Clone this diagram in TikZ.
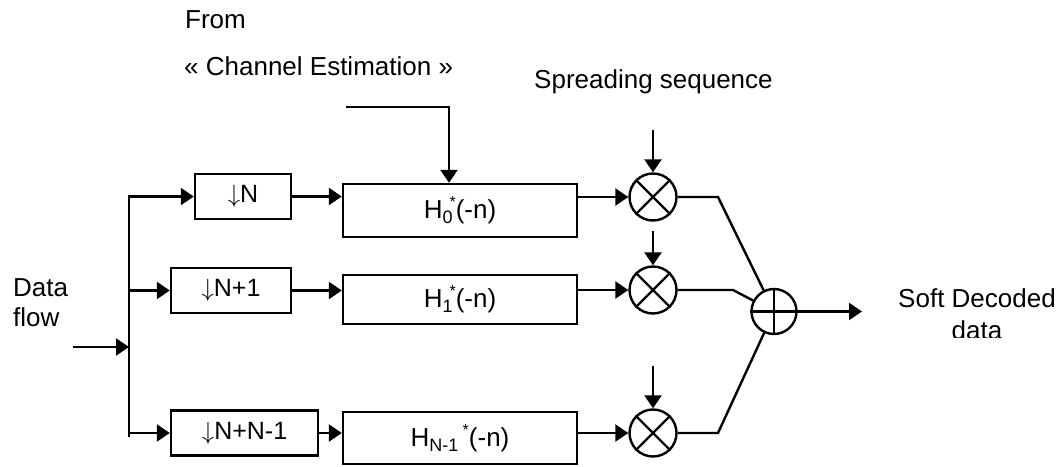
\documentclass[tikz,border=0pt]{standalone}
\usepackage{fontspec}
\setmainfont{Liberation Sans}
\usetikzlibrary{arrows.meta}

% small raised / lowered indices for the filter names
\newcommand{\hsb}[1]{\raisebox{-0.35ex}{\fontsize{18}{18}\selectfont #1}}
\newcommand{\hsp}[1]{\raisebox{0.8ex}{\fontsize{16}{16}\selectfont #1}}

\begin{document}
\begin{tikzpicture}[x=1pt,y=-1pt,
  line width=2.4pt,
  tip/.style={-{Triangle[length=13pt,width=17pt]}},
  lbl/.style={font=\fontsize{26}{30}\selectfont, inner sep=0pt},
  dec/.style={draw, minimum height=45pt, inner sep=0pt, font=\fontsize{25}{28}\selectfont},
  filt/.style={draw, minimum width=234pt, inner sep=0pt, font=\fontsize{26}{28}\selectfont},
  mult/.style={draw, circle, minimum size=47pt, inner sep=0pt},
  addr/.style={draw, circle, minimum size=45pt, inner sep=0pt}]

\useasboundingbox (0,0) rectangle (1062,466);

% decimators
\node[dec, minimum width=96pt]  (d0) at (243,196.5) {$\downarrow$N};
\node[dec, minimum width=120pt] (d1) at (231,290.5) {$\downarrow$N+1};
\node[dec, minimum width=147pt] (d2) at (244.5,433) {$\downarrow$N+N-1};

% matched filters
\node[filt, minimum height=53pt] (h0) at (460,210.5) {H\hsb{0}\kern-3pt\hsp{*}(-n)};
\node[filt, minimum height=49pt] (h1) at (460,299.5) {H\hsb{1}\kern-3pt\hsp{*}(-n)};
\node[filt, minimum height=52pt] (h2) at (460,438) {H\hsb{N-1}\,\hsp{*}(-n)};

% multipliers and adder
\node[mult] (m0) at (653,197) {};
\node[mult] (m1) at (653,290) {};
\node[mult] (m2) at (653,433) {};
\node[addr] (ad) at (774,311.5) {};
\foreach \m in {m0,m1,m2}
  \draw (\m.45) -- (\m.225) (\m.135) -- (\m.315);
\draw (ad.north) -- (ad.south) (ad.west) -- (ad.east);

% input fork
\coordinate (src) at (73,347);
\coordinate (fork) at (129,347);
\coordinate (forkend) at (129,437);
\draw[tip] (src) -- (fork);
\draw[tip] (forkend) -- (d0.west -| fork) -- (d0.west);
\draw[tip] (d1.west -| fork) -- (d1.west);
\draw[tip] (d2.west -| fork) -- (d2.west);

% decimator -> filter
\draw[tip] (d0.east) -- (d0.east -| h0.west);
\draw[tip] (d1.east) -- (d1.east -| h1.west);
\draw[tip] (d2.east) -- (d2.east -| h2.west);

% filter -> multiplier
\draw[tip] (m0.west -| h0.east) -- (m0.west);
\draw[tip] (m1.west -| h1.east) -- (m1.west);
\draw[tip] (m2.west -| h2.east) -- (m2.west);

% channel estimate feed
\coordinate (ce) at (346,107);
\coordinate (cebend) at (449,107);
\draw[tip] (ce) -- (cebend) -- (cebend |- h0.north);

% spreading sequence feeds
\coordinate (s0) at (653,130);
\coordinate (s1) at (653,231);
\coordinate (s2) at (653,366);
\draw[tip] (s0) -- (m0.north);
\draw[tip] (s1) -- (m1.north);
\draw[tip] (s2) -- (m2.north);

% multiplier outputs -> adder
\coordinate (k0) at (718,197);
\coordinate (k1) at (733,290);
\coordinate (k2) at (718,433);
\draw (m0.east) -- (k0) -- (ad);
\draw (m1.east) -- (k1) -- (ad);
\draw (m2.east) -- (k2) -- (ad);

% output
\coordinate (out) at (862,311.5);
\draw[tip] (ad.east) -- (out);

% labels
\node[lbl, anchor=base west] (from) at (184,28) {From};
\node[lbl, anchor=base west] (chest) at (183,75) {« Channel Estimation »};
\node[lbl, anchor=base west] (spread) at (533,88) {Spreading sequence};
\node[lbl, anchor=base west] (dflow) at (12,326)
  {\begin{tabular}[b]{@{}l@{}}Data\\flow\end{tabular}};
\begin{scope}
  \clip (880,250) rectangle (1062,337);
  \node[lbl, anchor=base] (soft) at (977,307)
    {\begin{tabular}[t]{@{}c@{}}Soft Decoded\\[2pt]data\end{tabular}};
\end{scope}
\end{tikzpicture}
\end{document}
